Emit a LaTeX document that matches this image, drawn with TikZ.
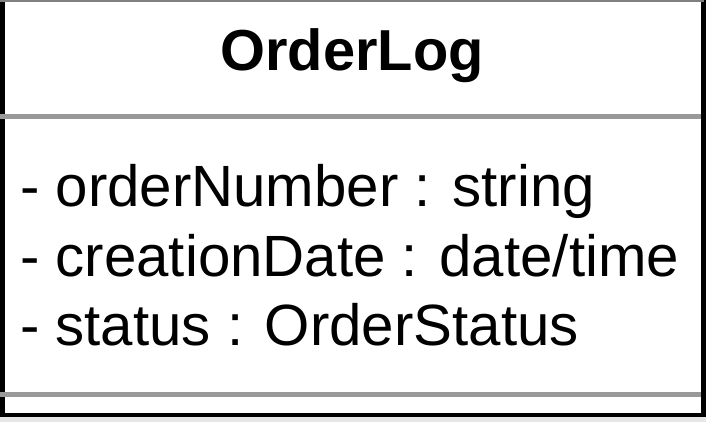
\documentclass[tikz,border=0pt]{standalone}
\usepackage{fontspec}
\setmainfont{Liberation Sans}
\definecolor{sepgrey}{HTML}{999999}
\definecolor{bggrey}{HTML}{E6E6E6}
\definecolor{topgrey}{HTML}{808080}
\begin{document}
\begin{tikzpicture}[x=1pt,y=-1pt,
  titletext/.style={inner sep=0pt,anchor=base,font=\fontsize{57.8}{69}\selectfont\bfseries},
  attrtext/.style={inner sep=0pt,anchor=base west,font=\fontsize{58.2}{70}\selectfont},
  sepline/.style={draw=sepgrey,line width=4.5pt},
  frame/.style={draw=black,line width=4.5pt}]
\useasboundingbox (0,0) rectangle (706,422);
\fill[bggrey] (0,0) rectangle (706,422);
\fill[white] (0,0) rectangle (704,415);
% frame
\draw[frame] (2.4,0) -- (2.4,415) -- (703.3,415) -- (703.3,0);
\draw[draw=topgrey,line width=2pt] (0,1) -- (704,1);
% separators
\draw[sepline] (0,116.5) -- (701,116.5);
\draw[sepline] (0,394.5) -- (701,394.5);
% texts
\node[titletext] (title) at (352,71) {OrderLog};
\node[attrtext] (a1) at (20,206) {- orderNumber : string};
\node[attrtext] (a2) at (20,276) {- creationDate : date/time};
\node[attrtext] (a3) at (20,345) {- status : OrderStatus};
\end{tikzpicture}
\end{document}
